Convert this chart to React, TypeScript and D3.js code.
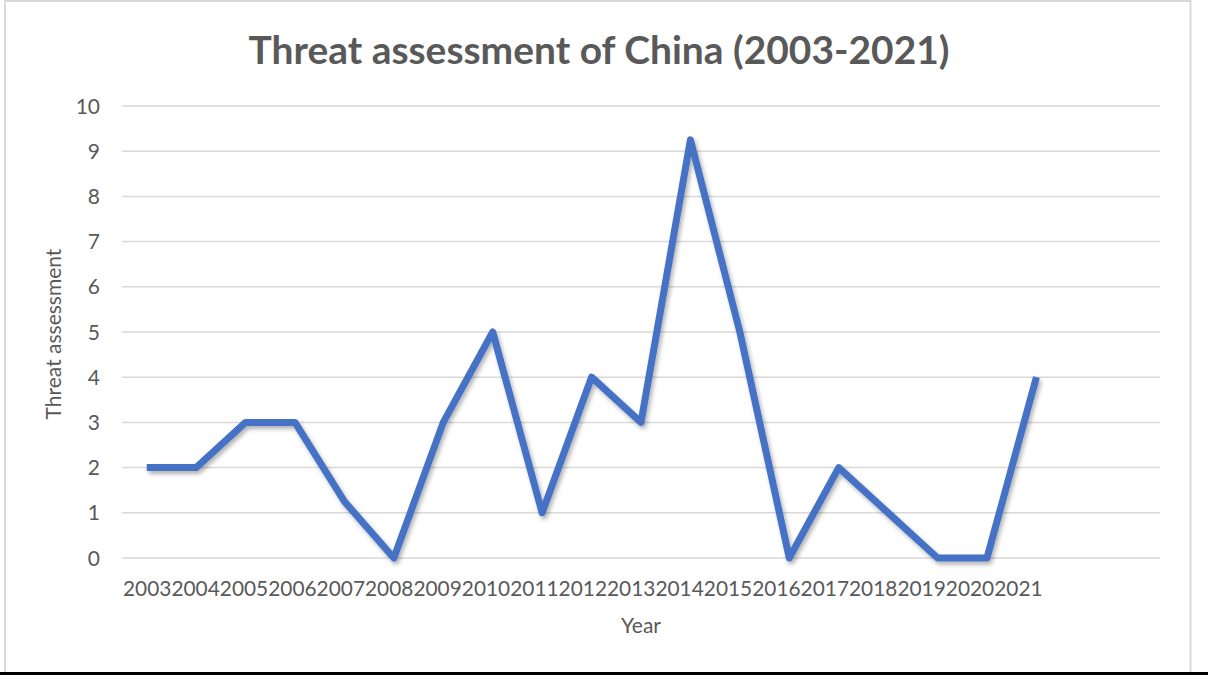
import React from "react";
import * as d3 from "d3";

// Threat assessment scores per year
const years = [
  "2003", "2004", "2005", "2006", "2007", "2008", "2009", "2010", "2011", "2012",
  "2013", "2014", "2015", "2016", "2017", "2018", "2019", "2020", "2021",
];
const threat = [2, 2, 3, 3, 1.25, 0, 3, 5, 1, 4, 3, 9.25, 5, 0, 2, 1, 0, 0, 4];
const yTicks = [0, 1, 2, 3, 4, 5, 6, 7, 8, 9, 10];
// the category axis keeps two blank slots after the last year
const blankSlots = 2;

const W = 1208;
const H = 675;
const plot = { left: 122, right: 1160, top: 106, bottom: 558 };
const textColor = "#595959";
const gridColor = "#d9d9d9";
const lineColor = "#4472C4";
const font = "Lato, 'Open Sans', sans-serif";

export default function App() {
  const x = d3
    .scaleBand<number>()
    .domain(d3.range(years.length + blankSlots))
    .range([plot.left, plot.right]);
  const y = d3.scaleLinear().domain([0, 10]).range([plot.bottom, plot.top]);

  const cx = (i: number) => (x(i) as number) + x.bandwidth() / 2;

  const line = d3
    .line<number>()
    .x((_, i) => cx(i))
    .y((d) => y(d));

  // year labels are packed edge to edge along the axis
  const labelStep = 48.4;
  const labelX = (i: number) => plot.left + 1 + labelStep * (i + 0.5);

  return (
    <div style={{ position: "absolute", left: 0, top: 0 }}>
      <svg width={W} height={H} style={{ display: "block" }}>
        <defs>
          <filter id="lineShadow" x="-5%" y="-5%" width="110%" height="115%">
            <feDropShadow dx="2" dy="3" stdDeviation="2" floodColor="#000" floodOpacity="0.3" />
          </filter>
        </defs>
        <rect x={0} y={0} width={W} height={H} fill="#fff" />
        {/* chart frame */}
        <line x1={5} y1={1} x2={1191} y2={1} stroke={gridColor} strokeWidth={2} />
        <line x1={5} y1={0} x2={5} y2={672} stroke={gridColor} strokeWidth={2} />
        <line x1={1190.5} y1={0} x2={1190.5} y2={672} stroke={gridColor} strokeWidth={2} />
        <line x1={0} y1={673.5} x2={W} y2={673.5} stroke="#000" strokeWidth={3} />

        <text
          x={599}
          y={64}
          textAnchor="middle"
          fontFamily={font}
          fontWeight={700}
          fontSize={39}
          fill={textColor}
          textLength={701}
          lengthAdjust="spacingAndGlyphs"
        >
          Threat assessment of China (2003-2021)
        </text>

        {/* horizontal gridlines and value labels */}
        {yTicks.map((t) => (
          <g key={t}>
            <line
              x1={plot.left}
              x2={plot.right}
              y1={y(t)}
              y2={y(t)}
              stroke={gridColor}
              strokeWidth={1.5}
            />
            <text
              x={100}
              y={y(t)}
              dy="0.36em"
              textAnchor="end"
              fontFamily={font}
              fontSize={21}
              fill={textColor}
            >
              {t}
            </text>
          </g>
        ))}

        {years.map((yr, i) => (
          <text
            key={yr}
            x={labelX(i)}
            y={596}
            textAnchor="middle"
            fontFamily={font}
            fontSize={21}
            fill={textColor}
            textLength={labelStep}
            lengthAdjust="spacingAndGlyphs"
          >
            {yr}
          </text>
        ))}

        <text
          x={(plot.left + plot.right) / 2}
          y={633}
          textAnchor="middle"
          fontFamily={font}
          fontSize={21}
          fill={textColor}
        >
          Year
        </text>

        <text
          transform={`translate(61, ${(plot.top + plot.bottom) / 2 + 2}) rotate(-90)`}
          textAnchor="middle"
          fontFamily={font}
          fontSize={21}
          fill={textColor}
        >
          Threat assessment
        </text>

        <path
          d={line(threat) ?? ""}
          fill="none"
          stroke={lineColor}
          strokeWidth={7}
          strokeLinejoin="round"
          strokeLinecap="butt"
          filter="url(#lineShadow)"
        />
      </svg>
    </div>
  );
}
